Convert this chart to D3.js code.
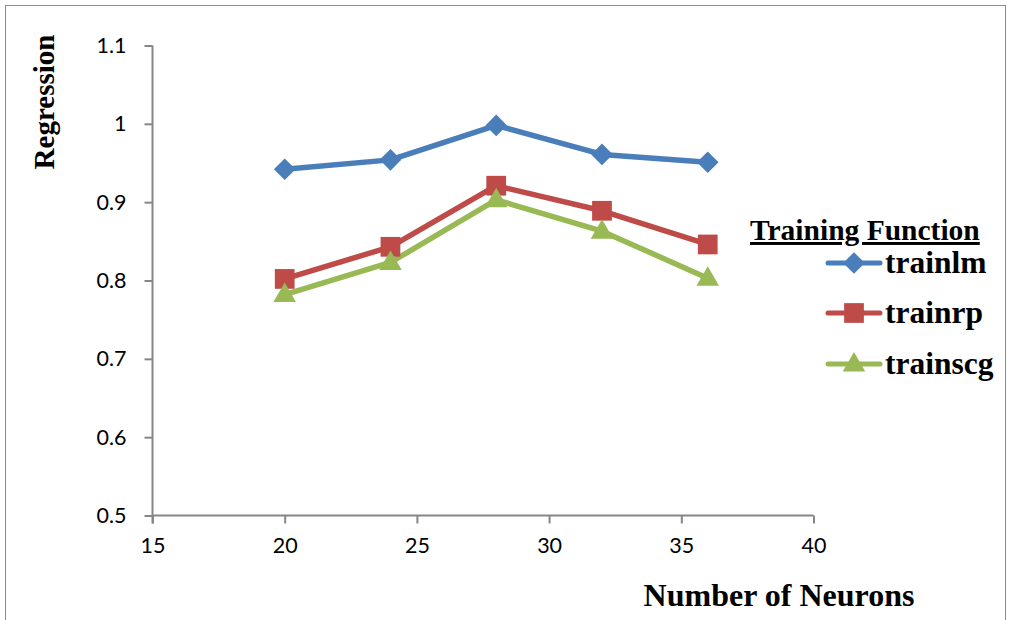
<!DOCTYPE html>
<html><head><meta charset="utf-8">
<script src="https://cdn.jsdelivr.net/npm/d3@7"></script>
<style>body{margin:0;background:#fff;} svg{display:block;}</style>
</head><body>
<script>
const neurons = [20, 24, 28, 32, 36];
const trainlm = [0.942, 0.954, 0.998, 0.961, 0.951];
const trainrp = [0.802, 0.843, 0.921, 0.889, 0.846];
const trainscg = [0.782, 0.823, 0.903, 0.863, 0.803];
const xTicks = [15, 20, 25, 30, 35, 40];
const yTicks = [0.5, 0.6, 0.7, 0.8, 0.9, 1, 1.1];
const seriesNames = ["trainlm", "trainrp", "trainscg"];
const seriesColors = ["#4A7EBB", "#BE4B48", "#98B954"];
const seriesSymbols = [d3.symbolSquare, d3.symbolSquare, d3.symbolTriangle];
const seriesValues = [trainlm, trainrp, trainscg];

const W = 1010, H = 620;
const svg = d3.select("body").append("svg").attr("width", W).attr("height", H);
svg.append("rect").attr("x", 5.5).attr("y", 5.5).attr("width", W - 10).attr("height", H + 20)
  .attr("fill", "none").attr("stroke", "#8c8c8c").attr("stroke-width", 1);

const x = d3.scaleLinear().domain([15, 40]).range([152.5, 813.5]);
const y = d3.scaleLinear().domain([0.5, 1.1]).range([515.5, 45.5]);
const axisColor = "#868686";
const tickFont = "Lato, 'Open Sans', sans-serif";

const xAxis = svg.append("g").attr("transform", `translate(0,${y(0.5)})`)
  .call(d3.axisBottom(x).tickValues(xTicks).tickSize(8).tickPadding(14).tickFormat(d3.format("d")));
const yAxis = svg.append("g").attr("transform", `translate(${x(15)},0)`)
  .call(d3.axisLeft(y).tickValues(yTicks).tickSize(8).tickPadding(18).tickFormat(d => d3.format("")(d)));
[xAxis, yAxis].forEach(a => {
  a.select(".domain").attr("stroke", axisColor).attr("stroke-width", 2);
  a.selectAll(".tick line").attr("stroke", axisColor).attr("stroke-width", 2);
  a.selectAll(".tick text").attr("fill", "#000").style("font-family", tickFont).style("font-size", "21.5px");
});
yAxis.select(".domain").attr("d", `M0,${y(1.1)}V${y(0.5) + 8}`);
xAxis.select(".domain").attr("d", `M0,0H${x(40) - x(15)}`).attr("transform", `translate(${x(15)},0)`);

const line = d3.line().x((d, i) => x(neurons[i])).y(d => y(d));
seriesValues.forEach((vals, k) => {
  svg.append("path").datum(vals).attr("d", line).attr("fill", "none")
    .attr("stroke", seriesColors[k]).attr("stroke-width", 5.5).attr("stroke-linejoin", "round");
});
const sizes = [235, 390, 220];
const rot = [45, 0, 0];
const dy = [0, 0, 1];
seriesValues.forEach((vals, k) => {
  svg.selectAll(null).data(vals).enter().append("path")
    .attr("d", d3.symbol().type(seriesSymbols[k]).size(sizes[k]))
    .attr("transform", (d, i) => `translate(${x(neurons[i])},${y(d) + dy[k]}) rotate(${rot[k]})`)
    .attr("fill", seriesColors[k]);
});

const serif = "'Liberation Serif', 'Times New Roman', serif";
svg.append("text").attr("x", 779).attr("y", 606).attr("text-anchor", "middle")
  .style("font-family", serif).style("font-weight", "bold").style("font-size", "32px").text("Number of Neurons");
svg.append("text").attr("transform", "translate(54,102) rotate(-90)").attr("text-anchor", "middle")
  .style("font-family", serif).style("font-weight", "bold").style("font-size", "29px").text("Regression");

svg.append("text").attr("x", 750).attr("y", 240)
  .style("font-family", serif).style("font-weight", "bold").style("font-size", "29.5px")
  .style("text-decoration", "underline").text("Training Function");
const legY = [263, 313, 364];
seriesNames.forEach((n, k) => {
  const g = svg.append("g");
  g.append("line").attr("x1", 828).attr("x2", 880).attr("y1", legY[k]).attr("y2", legY[k])
    .attr("stroke", seriesColors[k]).attr("stroke-width", 5).attr("stroke-linecap", "round");
  g.append("path").attr("d", d3.symbol().type(seriesSymbols[k]).size(sizes[k]))
    .attr("transform", `translate(854,${legY[k] + dy[k]}) rotate(${rot[k]})`).attr("fill", seriesColors[k]);
  g.append("text").attr("x", 885).attr("y", legY[k] + 10)
    .style("font-family", serif).style("font-weight", "bold").style("font-size", "31.5px").text(n);
});
</script>
</body></html>
